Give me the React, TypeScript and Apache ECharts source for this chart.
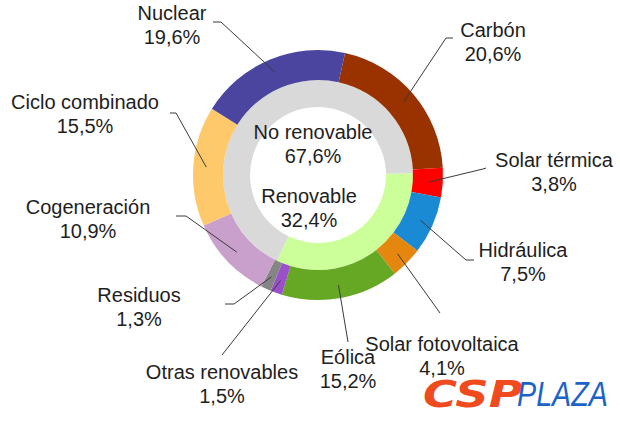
import React, { useEffect, useRef } from 'react';
import * as echarts from 'echarts';

// ---- data ----
const categories = ['Carbón', 'Solar térmica', 'Hidráulica', 'Solar fotovoltaica', 'Eólica', 'Otras renovables', 'Residuos', 'Cogeneración', 'Ciclo combinado', 'Nuclear'];
const shares = [20.6, 3.8, 7.5, 4.1, 15.2, 1.5, 1.3, 10.9, 15.5, 19.6];
const groupCategories = ['Renovable', 'No renovable'];
const groupShares = [32.4, 67.6];

// ---- styling ----
const colors = ['#9a3200', '#ff0000', '#1a8ad4', '#e5870f', '#66a823', '#9a50c8', '#858585', '#c9a0cc', '#fdc96b', '#4b459f'];
const groupColors = ['#ccff99', '#d9d9d9'];

const CX = 318, CY = 175;
const R_OUT = 125, R_MID = 95, R_IN = 68;
const START_DEG = 77.5; // echarts angle (ccw from 3 o'clock)
const INNER_START_DEG = 1;
const LINE_R = 112;

// label block centres and leader-line elbow/end points (layout)
const labelAnchors: number[][] = [
  [493, 42], [554, 172], [523, 262], [442, 356], [348, 369],
  [222, 384], [139, 307], [88, 219], [85, 114], [172, 25],
];
const lineEnds: number[][][] = [
  [[446, 38], [453, 38]],
  [[483, 169], [486, 168]],
  [[466, 260], [474, 260]],
  [[440, 313], [440, 313]],
  [[348, 342], [348, 342]],
  [[222, 355], [222, 355]],
  [[234, 304], [225, 304]],
  [[186, 216], [176, 216]],
  [[176, 113], [170, 113]],
  [[221, 22], [213, 22]],
];
const groupLabelAnchors: number[][] = [[309, 208], [313, 144]];

const fmt = (v: number) => v.toFixed(1).replace('.', ',') + '%';

export default function App() {
  const ref = useRef<HTMLDivElement>(null);
  useEffect(() => {
    if (!ref.current) return;
    const chart = echarts.init(ref.current, undefined, { renderer: 'svg' });
    const total = shares.reduce((a, b) => a + b, 0);
    const textStyle = {
      fontFamily: '"Liberation Sans", Arial, sans-serif',
      fontSize: 20,
      lineHeight: 24,
      color: '#1e1e1e',
    };
    const outerData = (transparent: boolean) =>
      categories.map((n, i) => ({
        name: n,
        value: shares[i],
        itemStyle: { color: transparent ? 'rgba(0,0,0,0)' : colors[i] },
      }));
    chart.setOption({
      animation: false,
      backgroundColor: '#ffffff',
      series: [
        {
          type: 'pie',
          z: 1,
          center: [CX, CY],
          radius: [R_IN, R_MID],
          startAngle: INNER_START_DEG,
          clockwise: true,
          avoidLabelOverlap: false,
          silent: true,
          data: groupCategories.map((n, i) => ({ name: n, value: groupShares[i], itemStyle: { color: groupColors[i] } })),
          label: {
            show: true,
            position: 'inside',
            formatter: (p: any) => p.name + '\n' + fmt(p.value),
            ...textStyle,
          },
          labelLine: { show: false },
          labelLayout: (p: any) => ({
            x: groupLabelAnchors[p.dataIndex][0],
            y: groupLabelAnchors[p.dataIndex][1],
            align: 'center',
            verticalAlign: 'middle',
          }),
        },
        {
          type: 'pie',
          z: 1,
          center: [CX, CY],
          radius: [R_MID, R_OUT],
          startAngle: START_DEG,
          clockwise: true,
          silent: true,
          data: outerData(false),
          label: { show: false },
          labelLine: { show: false },
        },
        {
          type: 'pie',
          z: 5,
          center: [CX, CY],
          radius: [R_MID, R_OUT],
          startAngle: START_DEG,
          clockwise: true,
          avoidLabelOverlap: false,
          silent: true,
          data: outerData(true),
          label: {
            show: true,
            position: 'outside',
            formatter: (p: any) => p.name + '\n' + fmt(p.value),
            ...textStyle,
          },
          labelLine: { show: true, length: 10, length2: 10, lineStyle: { color: '#3a3a3a', width: 1 } },
          labelLayout: (p: any) => {
            const i = p.dataIndex;
            let before = 0;
            for (let k = 0; k < i; k++) before += shares[k];
            const midFrac = (before + shares[i] / 2) / total;
            const ang = ((START_DEG - midFrac * 360) * Math.PI) / 180;
            const sx = CX + LINE_R * Math.cos(ang);
            const sy = CY - LINE_R * Math.sin(ang);
            return {
              x: labelAnchors[i][0],
              y: labelAnchors[i][1],
              align: 'center',
              verticalAlign: 'middle',
              labelLinePoints: [[sx, sy], lineEnds[i][0], lineEnds[i][1]],
            };
          },
        },
      ],
      graphic: [
        {
          type: 'text',
          x: 423,
          y: 375,
          scaleX: 1.22,
          style: {
            text: 'CSP',
            font: 'italic bold 38px "DejaVu Sans"',
            fill: '#ef4b1f',
            textVerticalAlign: 'top',
            verticalAlign: 'top',
          },
        },
        {
          type: 'text',
          x: 517,
          y: 376,
          scaleX: 0.82,
          style: {
            text: 'PLAZA',
            font: 'italic 300 35px "Liberation Sans"',
            fill: '#1d62c9',
            textVerticalAlign: 'top',
            verticalAlign: 'top',
          },
        },
      ],
    });
    return () => chart.dispose();
  }, []);
  return <div ref={ref} style={{ position: 'fixed', left: 0, top: 0, width: 620, height: 422, background: '#fff' }} />;
}
